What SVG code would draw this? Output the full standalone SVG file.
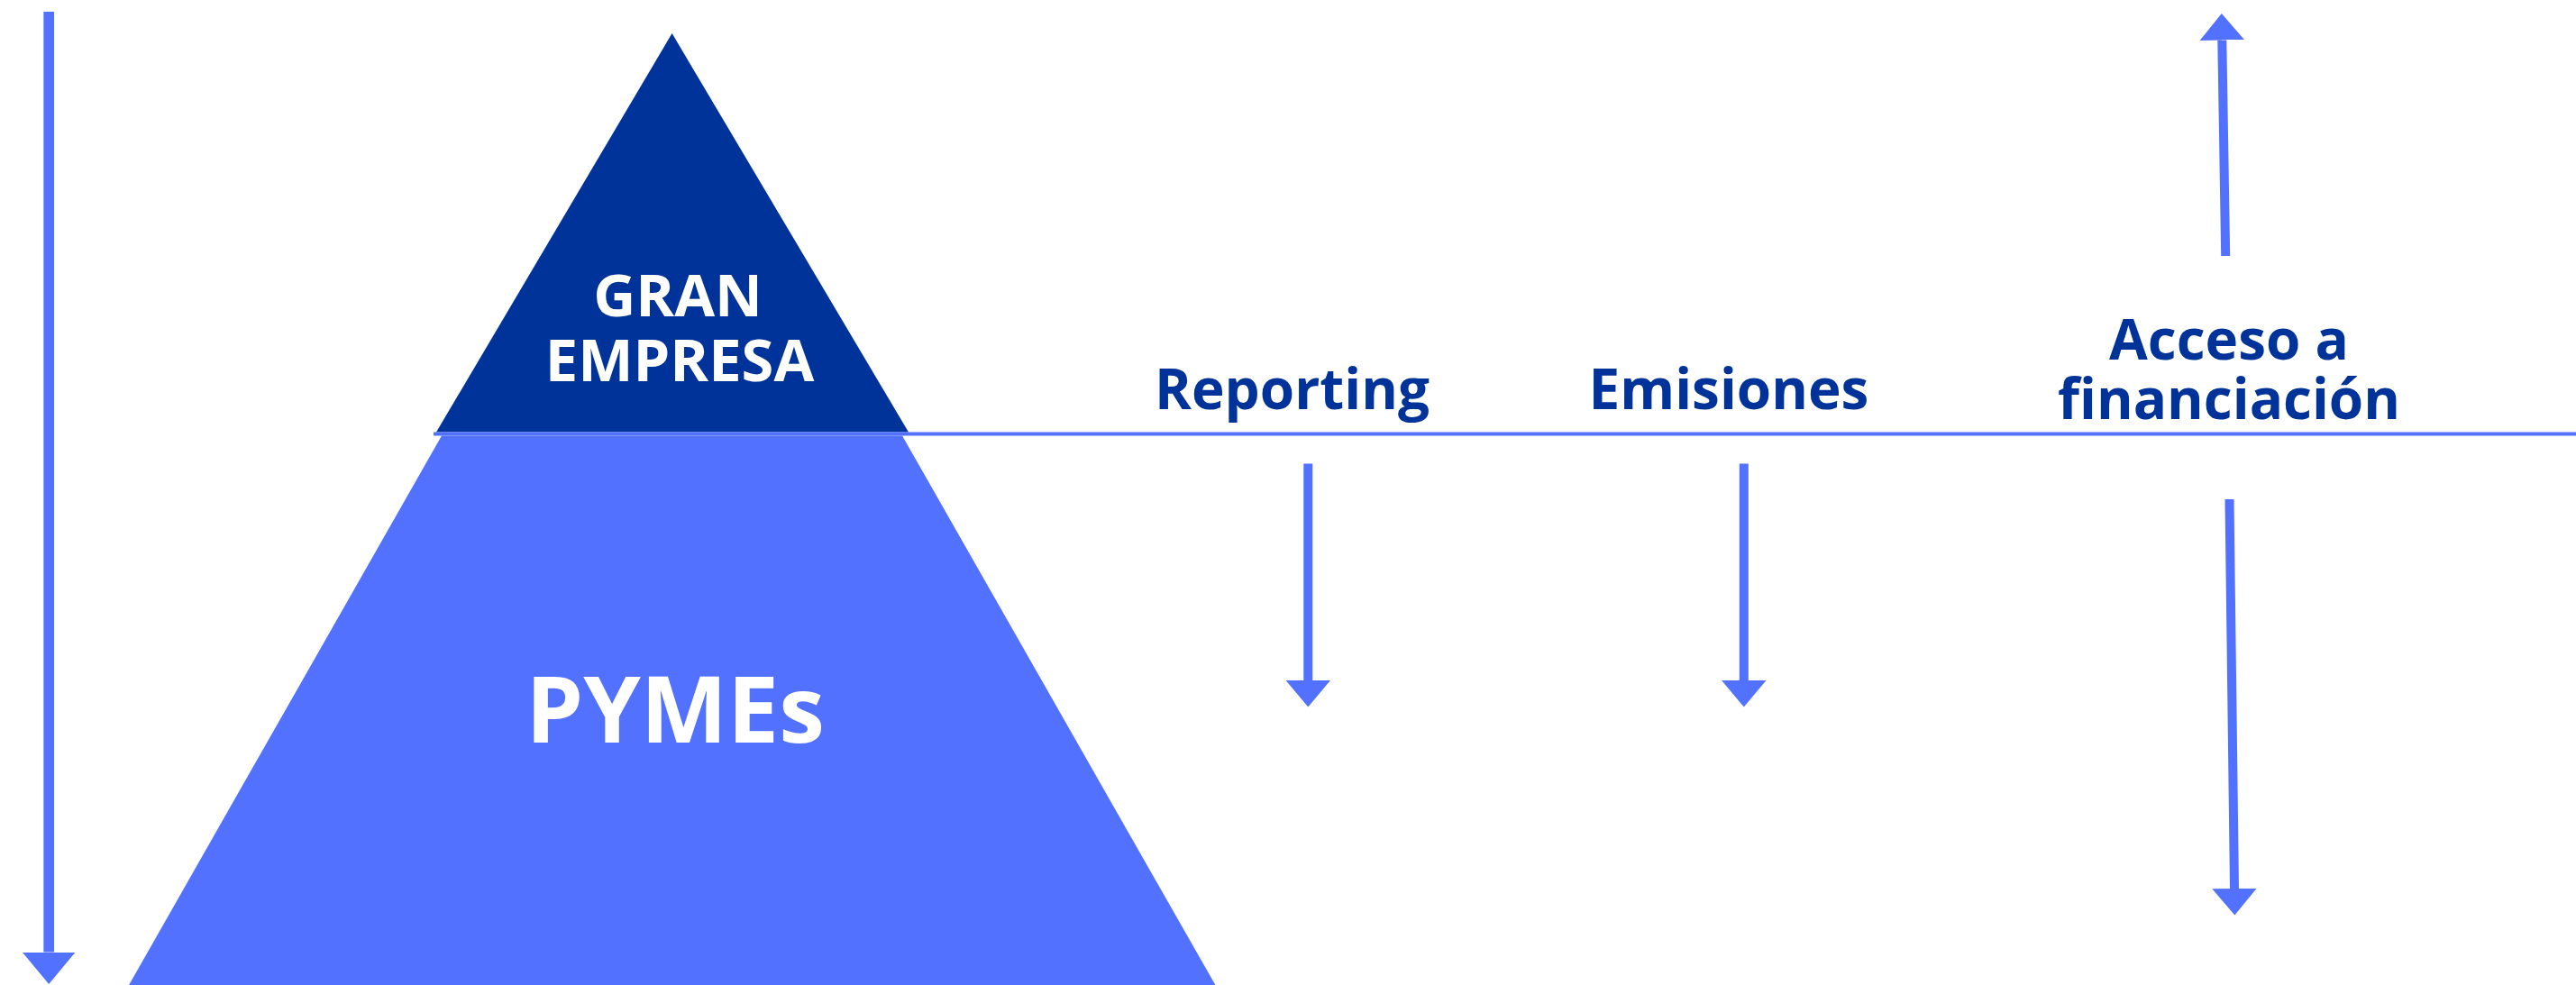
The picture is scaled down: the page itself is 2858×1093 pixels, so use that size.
<svg xmlns="http://www.w3.org/2000/svg" width="2858" height="1093" viewBox="0 0 2858 1093">
  <defs>
    <style>
      .lbl { font-family: "Open Sans", "Liberation Sans", sans-serif; font-weight: 700; text-anchor: middle; }
      .w { fill: #FFFFFF; }
      .b { fill: #003399; }
      .shaft { stroke: #5271FF; fill: none; stroke-linecap: butt; }
    </style>
    <marker id="head" markerUnits="userSpaceOnUse" viewBox="0 -25 30 50" refX="0" refY="0" markerWidth="30" markerHeight="50" orient="auto">
      <path d="M0,-24.7 L29.5,0 L0,24.7 Z" fill="#5271FF"/>
    </marker>
    <marker id="headL" markerUnits="userSpaceOnUse" viewBox="0 -30 36 60" refX="0" refY="0" markerWidth="36" markerHeight="60" orient="auto">
      <path d="M0,-29.5 L35.5,0 L0,29.5 Z" fill="#5271FF"/>
    </marker>
  </defs>
  <rect width="2858" height="1093" fill="#FFFFFF"/>

  <g id="pymes">
    <polygon points="490,483.5 1001,483.5 1349,1094 142.5,1094" fill="#5271FF"/>
    <text class="lbl w" x="749" y="824" font-size="102">PYMEs</text>
  </g>

  <g id="gran-empresa">
    <polygon points="745.6,37 1008,479.5 484,479.5" fill="#003399"/>
    <text class="lbl w" x="752" y="351" font-size="65">GRAN</text>
    <text class="lbl w" x="754" y="423" font-size="65">EMPRESA</text>
  </g>

  <g id="reporting">
    <text class="lbl b" x="1433.5" y="454" font-size="62">Reporting</text>
  </g>
  <g id="emisiones">
    <text class="lbl b" x="1918" y="454" font-size="62">Emisiones</text>
  </g>
  <g id="acceso">
    <text class="lbl b" x="2473" y="399" font-size="62">Acceso a</text>
    <text class="lbl b" x="2473" y="465" font-size="62">financiación</text>
  </g>

  <g id="connectors">
    <line x1="481" y1="481.5" x2="2858" y2="481.5" stroke="#5271FF" stroke-width="4"/>
    <line class="shaft" x1="54.2" y1="13" x2="54.2" y2="1056.5" stroke-width="11.7" marker-end="url(#headL)"/>
    <line class="shaft" x1="1451.3" y1="514.5" x2="1451.3" y2="755" stroke-width="10" marker-end="url(#head)"/>
    <line class="shaft" x1="1934.8" y1="514.5" x2="1934.8" y2="755" stroke-width="10" marker-end="url(#head)"/>
    <line class="shaft" x1="2469.2" y1="284" x2="2465.3" y2="44.5" stroke-width="10" marker-end="url(#head)"/>
    <line class="shaft" x1="2473.5" y1="554" x2="2479" y2="986" stroke-width="10" marker-end="url(#head)"/>
  </g>
</svg>
